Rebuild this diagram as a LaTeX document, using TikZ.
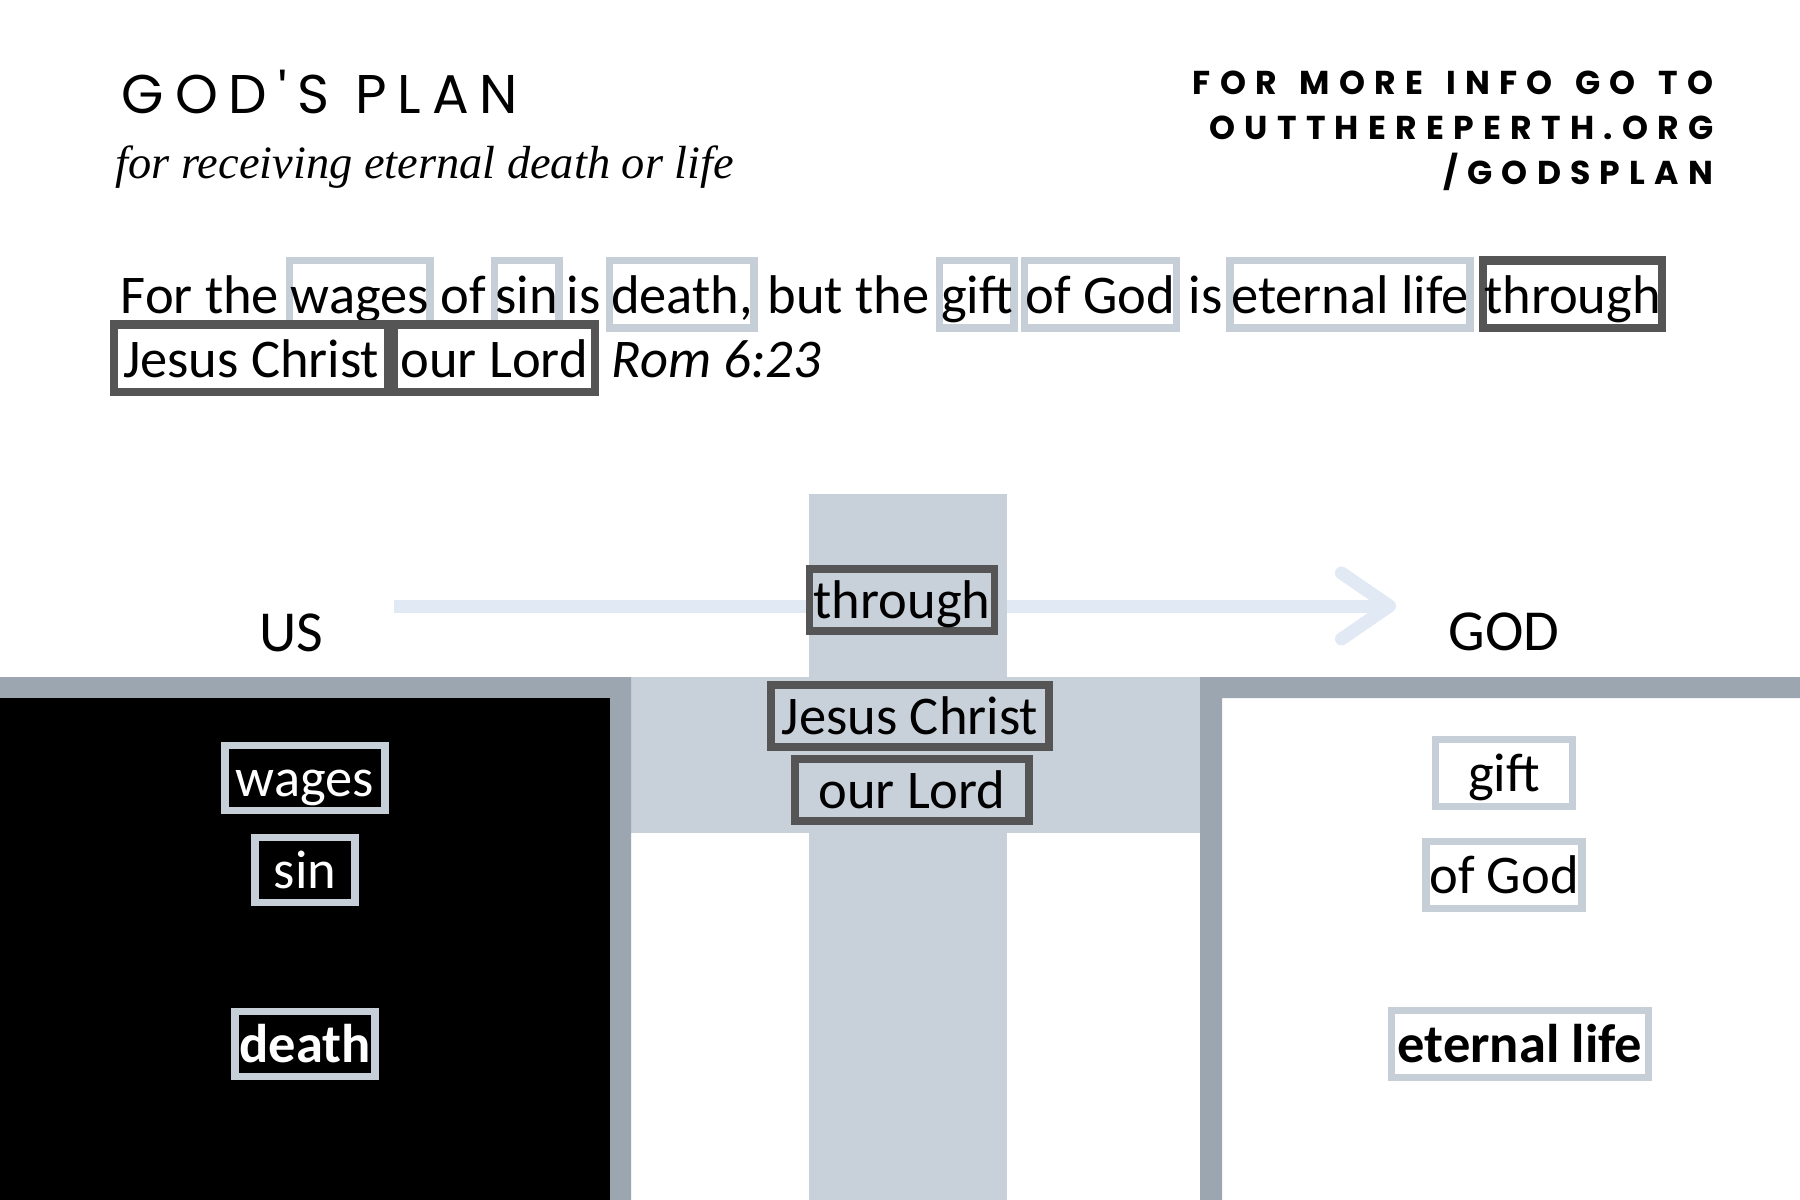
\documentclass[tikz,border=0pt]{standalone}
\usepackage{fontspec}
\setmainfont{Carlito}
\newfontfamily\headfont[LetterSpace=20,Ligatures=TeXOff]{Poppins}
\newfontfamily\infofont[LetterSpace=28,WordSpace=1.4]{Poppins}
\newfontfamily\subfont{Liberation Serif}
\usepackage{tikz}
\usetikzlibrary{positioning,calc}
\usetikzlibrary{arrows.meta}
\definecolor{BandGray}{RGB}{155,166,177}
\definecolor{CrossGray}{RGB}{200,208,217}
\definecolor{FrameGray}{RGB}{198,206,216}
\definecolor{FrameDark}{RGB}{85,85,85}
\definecolor{ArrowBlue}{RGB}{225,234,244}
\tikzset{
	word/.style={inner sep=0pt,text height=13.6pt,text depth=3pt,font=\fontsize{15.5}{19}\selectfont},
	lightbox/.style={word,draw=FrameGray,line width=2.1pt,fill=white,inner xsep=0.35pt,inner ysep=1.3pt},
	darkbox/.style={word,draw=FrameDark,line width=2.4pt,fill=white,inner xsep=0.35pt,inner ysep=1.3pt},
	usbox/.style={word,draw=FrameGray,line width=2.1pt,fill=black,text=white,inner ysep=1pt},
	godbox/.style={word,draw=FrameGray,line width=2.1pt,fill=white,inner ysep=1.3pt},
	crossbox/.style={word,draw=FrameDark,line width=2.2pt,fill=CrossGray,inner ysep=0.6pt},
	info/.style={anchor=base east,inner sep=0pt,font=\infofont\bfseries\fontsize{9.4}{11}\selectfont},
	wayline/.style={draw=ArrowBlue,line width=3.7pt,-{Straight Barb[length=0.48cm,width=0.66cm,round]}},
}
\begin{document}
\begin{tikzpicture}[x=0.01cm,y=-0.01cm]
	\useasboundingbox (0,0) rectangle (1800,1200);
	\fill[white] (0,0) rectangle (1800,1200);
	% heading
	\node[anchor=base west,inner sep=0pt,font=\headfont\fontsize{15.5}{18}\selectfont] (title) at (121,113) {GOD'S PLAN};
	\node[anchor=base west,inner sep=0pt,font=\subfont\itshape\fontsize{13.2}{16}\selectfont] (sub) at (115,178) {for receiving eternal death or life};
	\node[info] (info1) at (1714,94) {FOR MORE INFO GO TO};
	\node[info] (info2) at (1714,139) {OUTTHEREPERTH.ORG};
	\node[info] (info3) at (1714,184) {/GODSPLAN};
	% verse
	\node[word,anchor=base west] (v1) at (120,313) {For the};
	\node[lightbox,right=0.06cm of v1] (v2) {wages};
	\node[word,right=0.06cm of v2] (v3) {of};
	\node[lightbox,right=0.04cm of v3] (v4) {sin};
	\node[word,right=0.03cm of v4] (v5) {is};
	\node[lightbox,right=0.05cm of v5] (v6) {death,};
	\node[word,right=0.09cm of v6] (v7) {but the};
	\node[lightbox,right=0.06cm of v7] (v8) {gift};
	\node[lightbox,right=0.03cm of v8] (v9) {of God};
	\node[word,right=0.08cm of v9] (v10) {is};
	\node[lightbox,right=0.03cm of v10] (v11) {eternal life};
	\node[darkbox,right=0.05cm of v11] (v12) {through};
	\node[darkbox,inner xsep=2.5pt,anchor=base west] (v13) at (110,377) {Jesus Christ};
	\node[darkbox,inner xsep=2pt,right=-0.03cm of v13] (v14) {our Lord};
	\node[word,right=0.12cm of v14] (v15) {\itshape Rom 6:23};
	% the way across
	\coordinate (wayS) at (394,606);
	\coordinate (wayE) at (1396,606);
	\draw[wayline] (wayS) -- (wayE);
	\fill[CrossGray] (809,494) rectangle (1007,1200);
	\fill[CrossGray] (631,677) rectangle (1200,833);
	\fill[BandGray] (0,677) rectangle (631,698) (610,698) rectangle (631,1200);
	\fill[BandGray] (1200,677) rectangle (1800,698) (1200,698) rectangle (1222,1200);
	\fill[black] (0,698) rectangle (610,1200);
	\node[word,anchor=base,font=\fontsize{16.5}{19}\selectfont] (us) at (291,651) {US};
	\node[word,anchor=base,font=\fontsize{16.5}{19}\selectfont] (god) at (1504,650) {GOD};
	\node[crossbox,minimum width=1.85cm] (c1) at (902,600) {through};
	\node[crossbox,minimum width=2.78cm] (c2) at (910,716) {Jesus Christ};
	\node[crossbox,minimum width=2.34cm] (c3) at (912,790) {our Lord};
	\foreach \n/\y/\w/\t in {s1/778/1.6/wages,s2/870/1.0/sin,s3/1044/1.4/\textbf{death}}
		\node[usbox,minimum width=\w cm] (\n) at (305,\y) {\t};
	\foreach \n/\x/\y/\w/\t in {g1/1504/773/1.37/gift,g2/1504/875/1.56/of God,g3/1520/1044/2.57/\textbf{eternal life}}
		\node[godbox,minimum width=\w cm] (\n) at (\x,\y) {\t};
\end{tikzpicture}
\end{document}
